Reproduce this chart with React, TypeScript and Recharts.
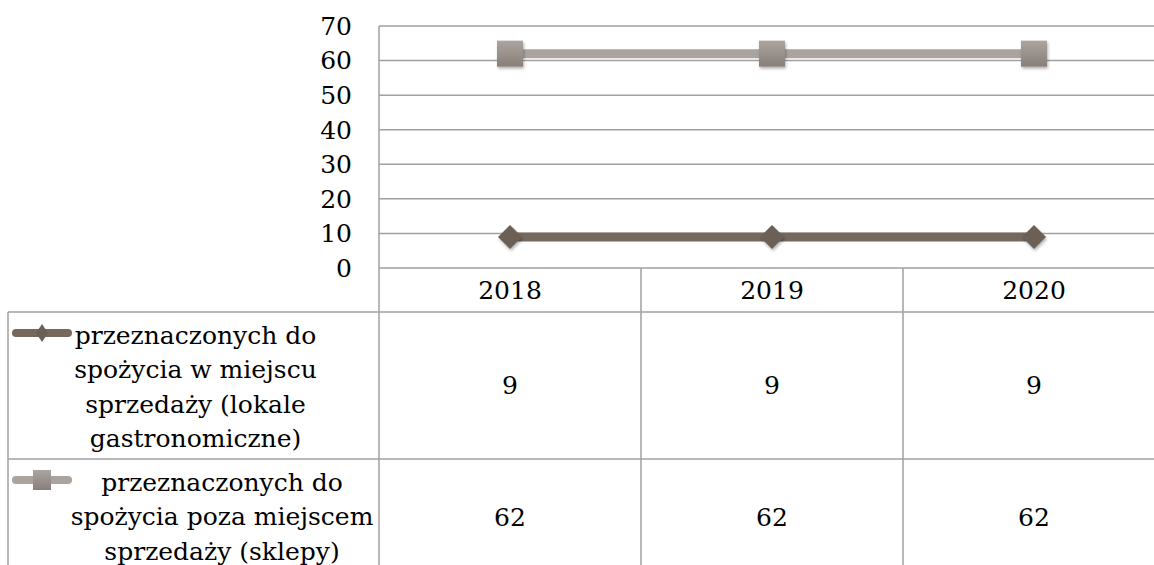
import { LineChart, Line, XAxis, YAxis, CartesianGrid } from 'recharts'

const years = ['2018', '2019', '2020']
const onSite = [9, 9, 9]
const offSite = [62, 62, 62]
const onSiteLabel = ['przeznaczonych do', 'spożycia w miejscu', 'sprzedaży (lokale', 'gastronomiczne)']
const offSiteLabel = ['przeznaczonych do', 'spożycia poza miejscem', 'sprzedaży (sklepy)']
const yTicks = [0, 10, 20, 30, 40, 50, 60, 70]

const data = years.map((year, i) => ({ year, onSite: onSite[i], offSite: offSite[i] }))

const W = 1170
const H = 575
const MARGIN = { top: 26, right: 5, bottom: 0, left: 8 }
const LEGEND_W = 371
const ROW_YEAR = 44
const ROW_A = 147
const ROW_B = 116
const BAND = (W - MARGIN.left - MARGIN.right - LEGEND_W) / years.length
const GRID = '#a0a0a0'
const FONT = '"DejaVu Serif", serif'
const DARK = '#75685f'
const LIGHT = '#aba39d'

const textStyle = { fontFamily: FONT, fontSize: 25, fill: '#000' }

const Diamond = ({ cx, cy, r = 12 }: any) => (
  <polygon
    points={`${cx},${cy - r} ${cx + r},${cy} ${cx},${cy + r} ${cx - r},${cy}`}
    fill="#6c5f56"
    filter="url(#shadow)"
  />
)

const Square = ({ cx, cy, s = 26 }: any) => (
  <rect x={cx - s / 2} y={cy - s / 2} width={s} height={s} fill="url(#sqFill)" filter="url(#shadow)" />
)

const YearTick = ({ x, y, payload }: any) => {
  const left = x - BAND / 2
  return (
    <g>
      <line x1={left} y1={y} x2={left} y2={y + ROW_YEAR} stroke={GRID} strokeWidth={1.5} />
      <text x={x} y={y + ROW_YEAR / 2} textAnchor="middle" dominantBaseline="central" style={textStyle}>
        {payload.value}
      </text>
    </g>
  )
}

const LegendIconA = ({ y }: any) => (
  <g>
    <line x1={16} y1={y} x2={68} y2={y} stroke={DARK} strokeWidth={8} strokeLinecap="round" />
    <polygon points={`42,${y - 9} 48,${y} 42,${y + 9} 36,${y}`} fill="#6c5f56" />
  </g>
)

const LegendIconB = ({ y }: any) => (
  <g>
    <line x1={16} y1={y} x2={68} y2={y} stroke={LIGHT} strokeWidth={8} strokeLinecap="round" />
    <rect x={33} y={y - 10} width={18} height={20} fill="url(#sqFill)" />
  </g>
)

const valueTick = (values: number[], label: string[], rowH: number, textCx: number, Icon: any) =>
  ({ x, y, index }: any) => {
    const left = x - BAND / 2
    return (
      <g>
        {index === 0 && (
          <g>
            <line x1={MARGIN.left} y1={y} x2={left} y2={y} stroke={GRID} strokeWidth={1.5} />
            <line x1={MARGIN.left} y1={y} x2={MARGIN.left} y2={y + rowH} stroke={GRID} strokeWidth={1.5} />
            <Icon y={y + 21} />
            {label.map((line, i) => (
              <text key={i} x={textCx} y={y + 23 + i * 34.5} textAnchor="middle" dominantBaseline="central" style={textStyle}>
                {line}
              </text>
            ))}
          </g>
        )}
        <line x1={left} y1={y} x2={left + BAND} y2={y} stroke={GRID} strokeWidth={1.5} />
        <line x1={left} y1={y} x2={left} y2={y + rowH} stroke={GRID} strokeWidth={1.5} />
        <text x={x} y={y + rowH / 2} textAnchor="middle" dominantBaseline="central" style={textStyle}>
          {values[index]}
        </text>
      </g>
    )
  }

const TickA = valueTick(onSite, onSiteLabel, ROW_A, MARGIN.left + LEGEND_W / 2 + 2, LegendIconA)
const TickB = valueTick(offSite, offSiteLabel, ROW_B, 222, LegendIconB)

export default function App() {
  return (
    <div style={{ position: 'absolute', left: 0, top: 0, width: 1154, height: 565, overflow: 'hidden', background: '#fff' }}>
      <LineChart width={W} height={H} data={data} margin={MARGIN}>
        <defs>
          <linearGradient id="sqFill" x1="0" y1="0" x2="0" y2="1">
            <stop offset="0%" stopColor="#aca49f" />
            <stop offset="100%" stopColor="#887f7a" />
          </linearGradient>
          <filter id="shadow" x="-50%" y="-50%" width="200%" height="200%">
            <feDropShadow dx="1" dy="2" stdDeviation="1.5" floodColor="#000" floodOpacity="0.3" />
          </filter>
        </defs>
        <CartesianGrid xAxisId="r1" vertical={false} stroke={GRID} strokeWidth={1.5} />
        <XAxis
          xAxisId="r1"
          dataKey="year"
          scale="band"
          height={ROW_YEAR}
          interval={0}
          tickSize={0}
          tickMargin={0}
          axisLine={false}
          tickLine={false}
          tick={YearTick}
        />
        <XAxis
          xAxisId="r2"
          dataKey="year"
          scale="band"
          height={ROW_A}
          interval={0}
          tickSize={0}
          tickMargin={0}
          axisLine={false}
          tickLine={false}
          tick={TickA}
        />
        <XAxis
          xAxisId="r3"
          dataKey="year"
          scale="band"
          height={ROW_B}
          interval={0}
          tickSize={0}
          tickMargin={0}
          axisLine={false}
          tickLine={false}
          tick={TickB}
        />
        <YAxis
          width={LEGEND_W}
          domain={[0, 70]}
          ticks={yTicks}
          interval={0}
          tickSize={0}
          tickMargin={27}
          tickLine={false}
          axisLine={{ stroke: GRID, strokeWidth: 1.5 }}
          tick={textStyle}
        />
        <Line
          xAxisId="r1"
          dataKey="onSite"
          stroke={DARK}
          strokeWidth={9}
          dot={(p: any) => <Diamond key={p.index} cx={p.cx} cy={p.cy} />}
          activeDot={false}
          isAnimationActive={false}
        />
        <Line
          xAxisId="r1"
          dataKey="offSite"
          stroke={LIGHT}
          strokeWidth={9}
          dot={(p: any) => <Square key={p.index} cx={p.cx} cy={p.cy} />}
          activeDot={false}
          isAnimationActive={false}
        />
      </LineChart>
    </div>
  )
}
